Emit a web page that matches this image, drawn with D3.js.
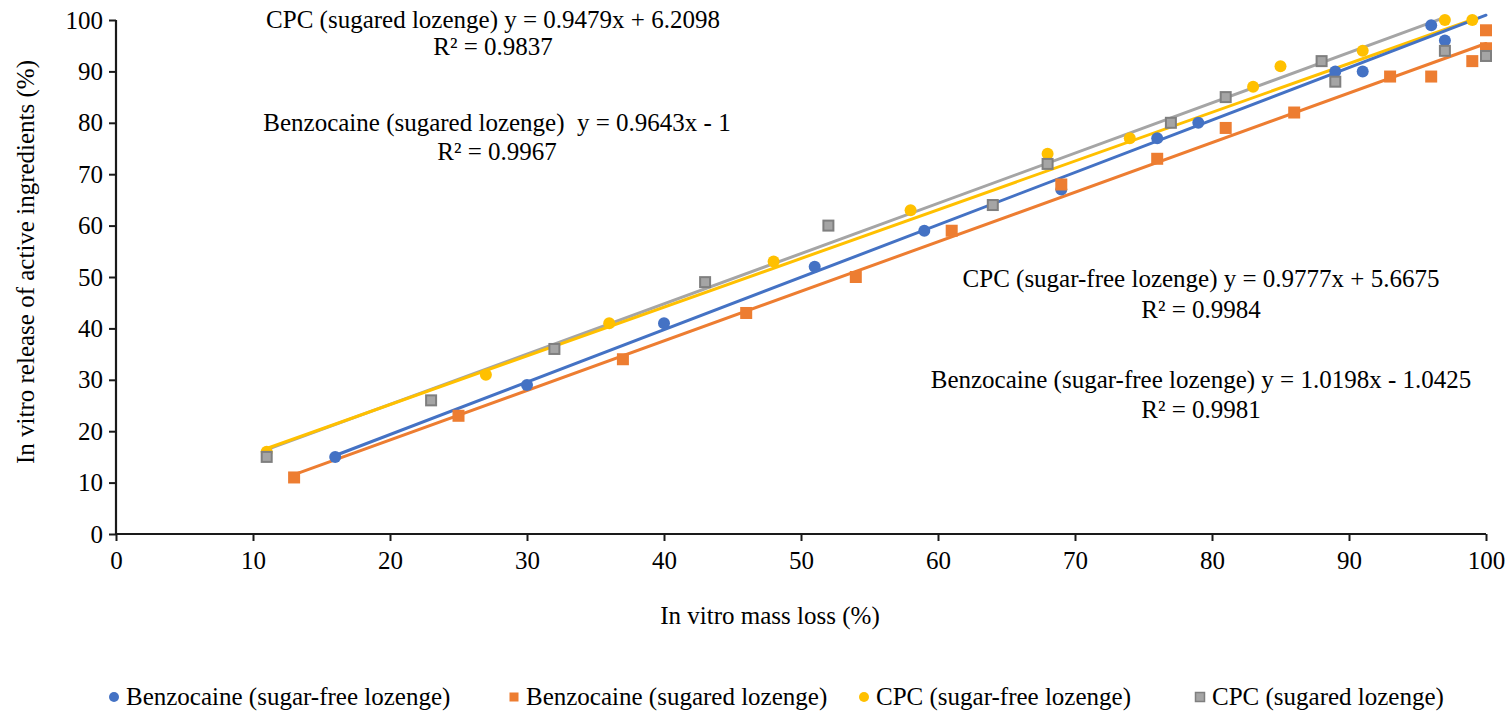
<!DOCTYPE html>
<html>
<head>
<meta charset="utf-8">
<script src="https://cdn.jsdelivr.net/npm/d3@7"></script>
<style>
  html, body { margin: 0; padding: 0; background: #fff; }
  svg { display: block; }
  text { font-family: "Liberation Serif", "Times New Roman", serif; fill: #000; }
</style>
</head>
<body>
<svg id="chart" width="1509" height="711"></svg>
<script>
// Mass loss (%) vs. release of active ingredient (%) for each lozenge type
const benzoSugarFreeX = [16, 30, 40, 51, 59, 69, 76, 79, 89, 91, 96, 97];
const benzoSugarFreeY = [15, 29, 41, 52, 59, 67, 77, 80, 90, 90, 99, 96];
const benzoSugaredX   = [13, 25, 37, 46, 54, 61, 69, 76, 81, 86, 93, 96, 99, 100, 100];
const benzoSugaredY   = [11, 23, 34, 43, 50, 59, 68, 73, 79, 82, 89, 89, 92, 98, 94.5];
const cpcSugarFreeX   = [11, 27, 36, 48, 58, 68, 74, 83, 85, 91, 97, 99];
const cpcSugarFreeY   = [16, 31, 41, 53, 63, 74, 77, 87, 91, 94, 100, 100];
const cpcSugaredX     = [11, 23, 32, 43, 52, 64, 68, 77, 81, 88, 89, 97, 100];
const cpcSugaredY     = [15, 26, 36, 49, 60, 64, 72, 80, 85, 92, 88, 94, 93];

const seriesNames  = ["Benzocaine (sugar-free lozenge)", "Benzocaine (sugared lozenge)",
                      "CPC (sugar-free lozenge)", "CPC (sugared lozenge)"];
const seriesColors = ["#4472C4", "#ED7D31", "#FFC000", "#A5A5A5"];
const seriesShapes = ["circle", "square", "circle", "square"];

// Linear trendlines: slope, intercept, x extent, stroke colour
const trendSlopes     = [0.9643, 0.9777, 0.9479, 1.0198];
const trendIntercepts = [-1, 5.6675, 6.2098, -1.0425];
const trendStartX     = [13, 11, 11, 16];
const trendEndX       = [100, 97, 99, 100];
const trendColors     = ["#ED7D31", "#A5A5A5", "#FFC000", "#4472C4"];

// Equation labels
const eqLine1 = ["CPC (sugared lozenge) y = 0.9479x + 6.2098",
                 "Benzocaine (sugared lozenge)  y = 0.9643x - 1",
                 "CPC (sugar-free lozenge) y = 0.9777x + 5.6675",
                 "Benzocaine (sugar-free lozenge) y = 1.0198x - 1.0425"];
const eqLine2 = ["R\u00B2 = 0.9837", "R\u00B2 = 0.9967", "R\u00B2 = 0.9984", "R\u00B2 = 0.9981"];

const xTicks = [0, 10, 20, 30, 40, 50, 60, 70, 80, 90, 100];
const yTicks = [0, 10, 20, 30, 40, 50, 60, 70, 80, 90, 100];

const svg = d3.select("#chart");
const FS = 25;

const x = d3.scaleLinear().domain([0, 100]).range([116, 1486]);
const y = d3.scaleLinear().domain([0, 100]).range([534, 20]);

// Axes
const xAxis = svg.append("g").attr("transform", `translate(0,${y(0)})`)
  .call(d3.axisBottom(x).tickValues(xTicks).tickSize(7).tickPadding(10).tickFormat(d3.format("d")));
const yAxis = svg.append("g").attr("transform", `translate(${x(0)},0)`)
  .call(d3.axisLeft(y).tickValues(yTicks).tickSize(7).tickPadding(6).tickFormat(d3.format("d")));
[xAxis, yAxis].forEach(g => {
  g.select(".domain").attr("stroke", "#1a1a1a").attr("stroke-width", 2.2);
  g.selectAll(".tick line").attr("stroke", "#1a1a1a").attr("stroke-width", 2);
  g.selectAll(".tick text").attr("font-size", FS)
    .attr("font-family", "'Liberation Serif', 'Times New Roman', serif").attr("fill", "#000");
});
// remove outer tick stubs drawn by the domain path
xAxis.select(".domain").attr("d", `M${x(0)},0H${x(100)}`);
yAxis.select(".domain").attr("d", `M0,${y(0)}V${y(100)}`);

// Axis titles
svg.append("text").attr("x", 770).attr("y", 624).attr("text-anchor", "middle")
  .attr("font-size", FS).text("In vitro mass loss (%)");
svg.append("text").attr("transform", "translate(34,262) rotate(-90)").attr("text-anchor", "middle")
  .attr("font-size", FS).text("In vitro release of active ingredients (%)");

// Trendlines
const trends = trendSlopes.map((m, i) => ({
  m, b: trendIntercepts[i], x0: trendStartX[i], x1: trendEndX[i], color: trendColors[i]
}));
svg.append("g").selectAll("line").data(trends).join("line")
  .attr("x1", d => x(d.x0)).attr("y1", d => y(d.m * d.x0 + d.b))
  .attr("x2", d => x(d.x1)).attr("y2", d => y(d.m * d.x1 + d.b))
  .attr("stroke", d => d.color).attr("stroke-width", 3).attr("stroke-linecap", "round");

// Markers
const seriesX = [benzoSugarFreeX, benzoSugaredX, cpcSugarFreeX, cpcSugaredX];
const seriesY = [benzoSugarFreeY, benzoSugaredY, cpcSugarFreeY, cpcSugaredY];
seriesX.forEach((xs, i) => {
  const pts = xs.map((v, k) => ({ x: v, y: seriesY[i][k] }));
  const g = svg.append("g");
  const col = seriesColors[i];
  if (seriesShapes[i] === "circle") {
    g.selectAll("circle").data(pts).join("circle")
      .attr("cx", d => x(d.x)).attr("cy", d => y(d.y)).attr("r", 6)
      .attr("fill", col);
  } else {
    const s = i === 3 ? 10 : 12;
    g.selectAll("rect").data(pts).join("rect")
      .attr("x", d => x(d.x) - s / 2).attr("y", d => y(d.y) - s / 2)
      .attr("width", s).attr("height", s)
      .attr("fill", col)
      .attr("stroke", i === 3 ? "#7F7F7F" : "none").attr("stroke-width", i === 3 ? 2 : 0);
  }
});

// Equation labels
const eqPos = [[493, 28, 55], [497, 131, 160], [1201, 287, 318], [1201, 388, 418]];
eqPos.forEach((p, i) => {
  svg.append("text").attr("x", p[0]).attr("y", p[1]).attr("text-anchor", "middle")
    .attr("font-size", FS).style("white-space", "pre").text(eqLine1[i]);
  svg.append("text").attr("x", p[0]).attr("y", p[2]).attr("text-anchor", "middle")
    .attr("font-size", FS).text(eqLine2[i]);
});

// Legend
const legendX = [114, 514, 864, 1200];
const legendY = 697;
seriesNames.forEach((name, i) => {
  const g = svg.append("g");
  if (seriesShapes[i] === "circle") {
    g.append("circle").attr("cx", legendX[i]).attr("cy", legendY).attr("r", 5).attr("fill", seriesColors[i]);
  } else {
    const s = 9;
    g.append("rect").attr("x", legendX[i] - s / 2).attr("y", legendY - s / 2)
      .attr("width", s).attr("height", s).attr("fill", seriesColors[i])
      .attr("stroke", i === 3 ? "#7F7F7F" : "none").attr("stroke-width", i === 3 ? 1.5 : 0);
  }
  g.append("text").attr("x", legendX[i] + 12).attr("y", legendY + 8)
    .attr("font-size", FS).text(name);
});
</script>
</body>
</html>
